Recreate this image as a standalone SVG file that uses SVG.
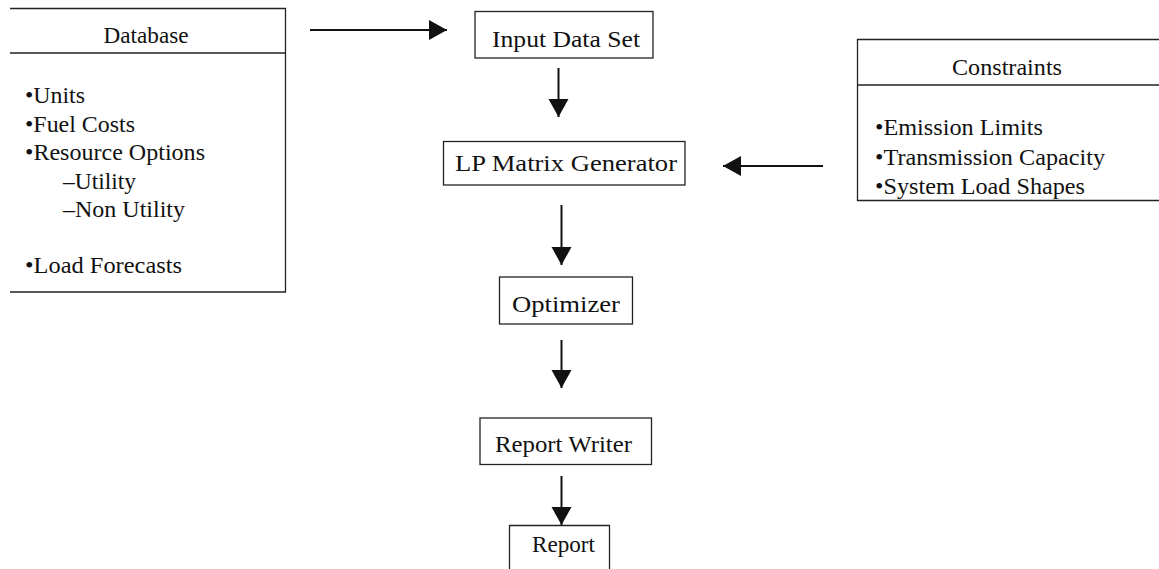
<svg xmlns="http://www.w3.org/2000/svg" width="1159" height="569" viewBox="0 0 1159 569">
  <defs>
    <marker id="arrow" markerUnits="userSpaceOnUse" markerWidth="20" markerHeight="22" refX="18" refY="10" orient="auto">
      <path d="M0,0 L18,10 L0,20 Z" fill="#111"/>
    </marker>
    <style>
      .box { fill: none; stroke: #222; stroke-width: 1.3; }
      .conn { fill: none; stroke: #111; stroke-width: 2; marker-end: url(#arrow); }
      text { font-family: "Liberation Serif", "Times New Roman", serif; fill: #111; }
      .side { font-size: 22.5px; }
      .main { font-size: 23.5px; }
      .c { text-anchor: middle; }
    </style>
  </defs>
  <rect width="1159" height="569" fill="#fff"/>

  <g id="database">
    <path class="box" d="M10,8.5 H285.5 V292 H10 M10,53 H285.5"/>
    <text class="side c" x="146" y="42.5" textLength="85" lengthAdjust="spacingAndGlyphs">Database</text>
    <text class="side" x="25" y="102.5" textLength="60" lengthAdjust="spacingAndGlyphs">•Units</text>
    <text class="side" x="25" y="131.5" textLength="110" lengthAdjust="spacingAndGlyphs">•Fuel Costs</text>
    <text class="side" x="25" y="160" textLength="180" lengthAdjust="spacingAndGlyphs">•Resource Options</text>
    <text class="side" x="63" y="188.5" textLength="73" lengthAdjust="spacingAndGlyphs">–Utility</text>
    <text class="side" x="63" y="216.5" textLength="122" lengthAdjust="spacingAndGlyphs">–Non Utility</text>
    <text class="side" x="25" y="273" textLength="157" lengthAdjust="spacingAndGlyphs">•Load Forecasts</text>
  </g>

  <g id="constraints">
    <path class="box" d="M1159,39.5 H857.5 V200.5 H1159 M857.5,85 H1159"/>
    <text class="side c" x="1007" y="75" textLength="110" lengthAdjust="spacingAndGlyphs">Constraints</text>
    <text class="side" x="875" y="135" textLength="168" lengthAdjust="spacingAndGlyphs">•Emission Limits</text>
    <text class="side" x="875" y="164.5" textLength="230" lengthAdjust="spacingAndGlyphs">•Transmission Capacity</text>
    <text class="side" x="875" y="194" textLength="210" lengthAdjust="spacingAndGlyphs">•System Load Shapes</text>
  </g>

  <g id="input-data-set">
    <rect class="box" x="475" y="11.5" width="178" height="46.5"/>
    <text class="main c" x="566" y="47" textLength="148" lengthAdjust="spacingAndGlyphs">Input Data Set</text>
  </g>

  <g id="lp-matrix-generator">
    <rect class="box" x="443.5" y="141.5" width="241.5" height="43.5"/>
    <text class="main c" x="566" y="170.5" textLength="222" lengthAdjust="spacingAndGlyphs">LP Matrix Generator</text>
  </g>

  <g id="optimizer">
    <rect class="box" x="499.5" y="277" width="133" height="47"/>
    <text class="main c" x="566" y="311.5" textLength="108" lengthAdjust="spacingAndGlyphs">Optimizer</text>
  </g>

  <g id="report-writer">
    <rect class="box" x="480" y="418" width="171.5" height="46.5"/>
    <text class="main c" x="563.5" y="451.5" textLength="137" lengthAdjust="spacingAndGlyphs">Report Writer</text>
  </g>

  <g id="report">
    <path class="box" d="M509.5,575 V525.5 H609.5 V575"/>
    <text class="main c" x="563.5" y="552" textLength="63" lengthAdjust="spacingAndGlyphs">Report</text>
  </g>

  <g id="connectors">
    <line class="conn" x1="310" y1="30" x2="447" y2="30"/>
    <line class="conn" x1="558.5" y1="68" x2="558.5" y2="117"/>
    <line class="conn" x1="823" y1="166" x2="723" y2="166"/>
    <line class="conn" x1="561.5" y1="205" x2="561.5" y2="265"/>
    <line class="conn" x1="561.5" y1="340" x2="561.5" y2="388"/>
    <line class="conn" x1="561.5" y1="476" x2="561.5" y2="525"/>
  </g>
</svg>
